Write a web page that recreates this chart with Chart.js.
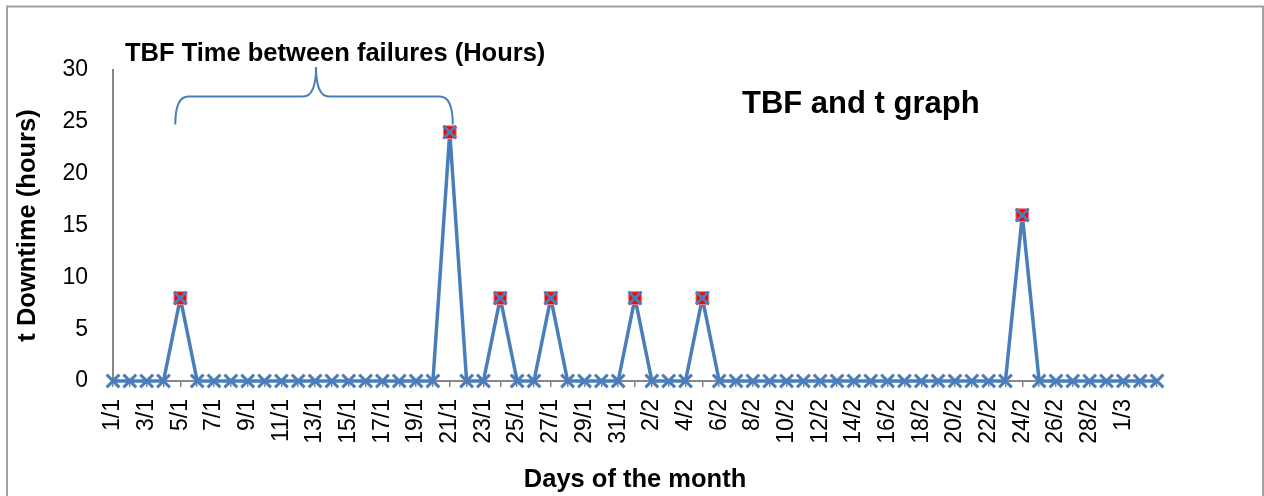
<!DOCTYPE html>
<html>
<head>
<meta charset="utf-8">
<script src="https://cdn.jsdelivr.net/npm/chart.js@4.4.0/dist/chart.umd.min.js"></script>
<style>
  html, body { margin: 0; padding: 0; background: #ffffff; }
  #wrap { width: 1264px; height: 496px; position: relative; }
</style>
</head>
<body>
<div id="wrap"><canvas id="c" width="1264" height="496"></canvas></div>
<script>
const categories = [
  '1/1','2/1','3/1','4/1','5/1','6/1','7/1','8/1','9/1','10/1',
  '11/1','12/1','13/1','14/1','15/1','16/1','17/1','18/1','19/1','20/1',
  '21/1','22/1','23/1','24/1','25/1','26/1','27/1','28/1','29/1','30/1',
  '31/1','1/2','2/2','3/2','4/2','5/2','6/2','7/2','8/2','9/2',
  '10/2','11/2','12/2','13/2','14/2','15/2','16/2','17/2','18/2','19/2',
  '20/2','21/2','22/2','23/2','24/2','25/2','26/2','27/2','28/2','29/2',
  '1/3','2/3','3/3'
];
const downtime = [
  0,0,0,0,8,0,0,0,0,0,
  0,0,0,0,0,0,0,0,0,0,
  24,0,0,8,0,0,8,0,0,0,
  0,8,0,0,0,8,0,0,0,0,
  0,0,0,0,0,0,0,0,0,0,
  0,0,0,0,16,0,0,0,0,0,
  0,0,0
];
const failureMarks = downtime.map(v => v > 0 ? v : null);
const yTicks = { min: 0, max: 30, step: 5 };
const lastLabelIndex = 60; // labels shown every second day, up to 1/3
const chartTitle = 'TBF and t graph';
const braceLabel = 'TBF Time between failures (Hours)';
const braceFrom = 3.7;   // category position where the brace starts
const braceTo = 20;      // category position (21/1) where the brace ends
const xTitle = 'Days of the month';
const yTitle = 't Downtime (hours)';

const BLUE = '#4a7ebb';
const GRAY = '#868686';
const FONT = "'Liberation Sans', Arial, sans-serif";

const decor = {
  id: 'decor',
  beforeDraw(chart) {
    const ctx = chart.ctx;
    ctx.save();
    ctx.fillStyle = '#ffffff';
    ctx.fillRect(0, 0, chart.width, chart.height);
    ctx.restore();
  },
  afterDraw(chart) {
    const ctx = chart.ctx;
    const xs = chart.scales.x, ys = chart.scales.y;
    ctx.save();
    // frame
    ctx.strokeStyle = '#a0a0a0';
    ctx.lineWidth = 2;
    ctx.beginPath();
    ctx.moveTo(7, 500); ctx.lineTo(7, 6.5); ctx.lineTo(1263, 6.5); ctx.lineTo(1263, 500);
    ctx.stroke();

    // chart title
    ctx.fillStyle = '#000';
    ctx.font = 'bold 31px ' + FONT;
    ctx.textAlign = 'left';
    ctx.textBaseline = 'alphabetic';
    ctx.fillText(chartTitle, 742, 113);

    // brace label
    ctx.font = 'bold 25.5px ' + FONT;
    ctx.fillText(braceLabel, 125, 61);

    // brace
    const xl = xs.getPixelForValue(braceFrom);
    const xr = xs.getPixelForValue(braceTo) + 3;
    const xm = (xl + xr) / 2 + 2;
    const yEnd = ys.getPixelForValue(24.75);
    const yH = ys.getPixelForValue(27.45);
    const yTip = ys.getPixelForValue(30.3);
    const r = 13;
    ctx.strokeStyle = BLUE;
    ctx.lineWidth = 2;
    ctx.beginPath();
    ctx.moveTo(xl, yEnd);
    ctx.quadraticCurveTo(xl, yH, xl + r, yH);
    ctx.lineTo(xm - r, yH);
    ctx.quadraticCurveTo(xm, yH, xm, yTip);
    ctx.quadraticCurveTo(xm, yH, xm + r, yH);
    ctx.lineTo(xr - r, yH);
    ctx.quadraticCurveTo(xr, yH, xr, yEnd);
    ctx.stroke();
    ctx.restore();
  }
};

new Chart(document.getElementById('c'), {
  type: 'line',
  data: {
    labels: categories,
    datasets: [
      {
        label: 'line',
        data: downtime,
        borderColor: BLUE,
        borderWidth: 3.5,
        borderJoinStyle: 'round',
        pointRadius: 0,
        tension: 0,
        fill: false,
        clip: false,
        order: 3
      },
      {
        label: 'failures',
        data: failureMarks,
        showLine: false,
        pointStyle: 'rect',
        pointRadius: 9,
        pointBackgroundColor: '#ff0000',
        pointBorderColor: '#f08080',
        pointBorderWidth: 1,
        clip: false,
        order: 2
      },
      {
        label: 'points',
        data: downtime,
        showLine: false,
        pointStyle: 'crossRot',
        pointRadius: 9,
        pointBorderColor: BLUE,
        pointBorderWidth: 3,
        clip: false,
        order: 1
      }
    ]
  },
  options: {
    responsive: false,
    animation: false,
    devicePixelRatio: 1,
    layout: { padding: { left: 0, right: 107, top: 70, bottom: 0 } },
    plugins: {
      legend: { display: false },
      tooltip: { enabled: false },
      title: { display: false }
    },
    scales: {
      x: {
        type: 'category',
        offset: false,
        grid: {
          display: true,
          drawOnChartArea: false,
          drawTicks: true,
          tickLength: 6,
          color: GRAY,
          lineWidth: 1.5,
          offset: false
        },
        border: { display: true, color: GRAY, width: 2 },
        ticks: {
          autoSkip: false,
          minRotation: 90,
          maxRotation: 90,
          padding: 12,
          color: '#000',
          font: { family: FONT, size: 23 },
          callback: function (val, idx) {
            return (idx % 2 === 0 && idx <= lastLabelIndex) ? categories[idx] : '';
          }
        },
        title: {
          display: true,
          text: xTitle,
          color: '#000',
          font: { family: FONT, size: 25.5, weight: 'bold', lineHeight: 1.2 },
          padding: { top: 0, bottom: 1 }
        },
        afterFit(scale) { scale.height = 115; }
      },
      y: {
        min: yTicks.min,
        max: yTicks.max,
        grid: { display: true, drawOnChartArea: false, drawTicks: false },
        border: { display: true, color: GRAY, width: 2 },
        ticks: {
          stepSize: yTicks.step,
          padding: 25,
          color: '#000',
          font: { family: FONT, size: 23 }
        },
        title: {
          display: true,
          text: yTitle,
          color: '#000',
          font: { family: FONT, size: 25.5, weight: 'bold', lineHeight: 1.2 },
          padding: { top: 13, bottom: 0 }
        },
        afterFit(scale) { scale.width = 113; }
      }
    }
  },
  plugins: [decor]
});
</script>
</body>
</html>
